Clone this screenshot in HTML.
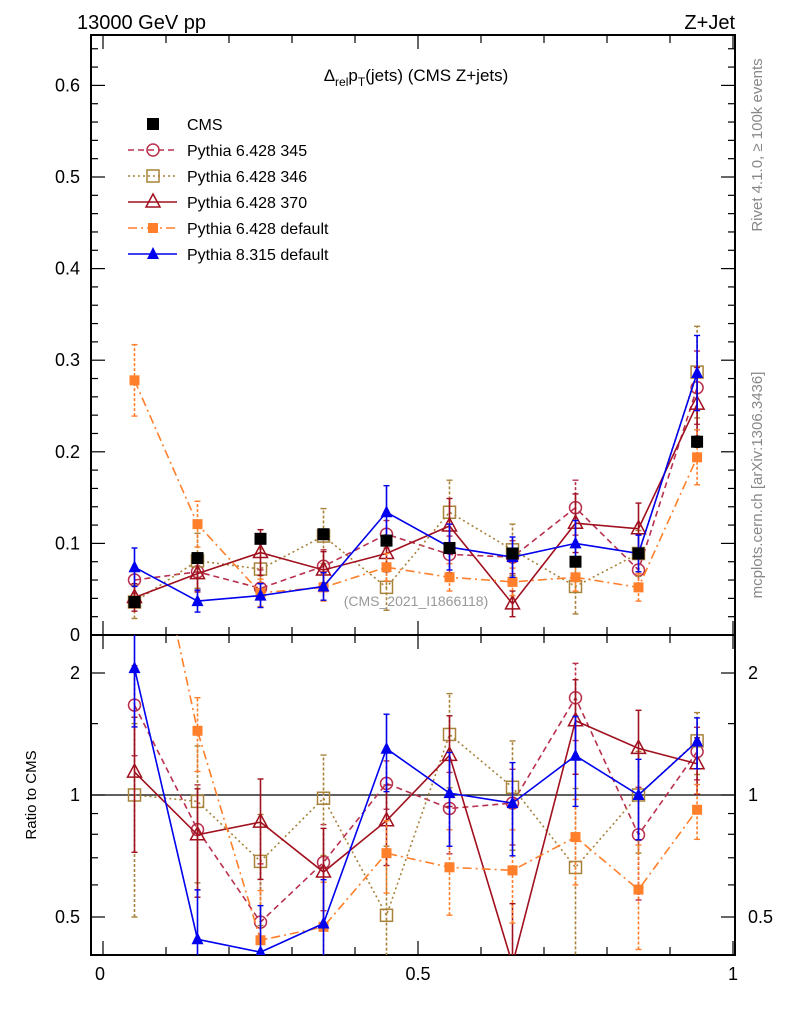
<!DOCTYPE html>
<html><head><meta charset="utf-8">
<style>
body{margin:0;background:#fff;}
svg{display:block;font-family:"Liberation Sans",sans-serif;}
</style></head>
<body>
<svg id="chart" width="786" height="1024" viewBox="0 0 786 1024">
<defs>
<clipPath id="clipMain"><rect x="91" y="35" width="644" height="600"/></clipPath>
<clipPath id="clipRatio"><rect x="91" y="635" width="644" height="320"/></clipPath>
</defs>
<g id="axes"></g>
<g id="series-main" clip-path="url(#clipMain)"></g>
<g id="series-ratio" clip-path="url(#clipRatio)"></g>
<g id="labels">
<text x="77" y="29" font-size="20">13000 GeV pp</text>
<text x="735" y="29" font-size="20" text-anchor="end">Z+Jet</text>
<text x="416" y="81" font-size="17" text-anchor="middle">Δ<tspan font-size="12" dy="5">rel</tspan><tspan dy="-5">p</tspan><tspan font-size="12" dy="5">T</tspan><tspan dy="-5">(jets) (CMS Z+jets)</tspan></text>
<text x="416" y="606" font-size="14" fill="#999" text-anchor="middle">(CMS_2021_I1866118)</text>
<text transform="translate(762,145) rotate(-90)" font-size="15" fill="#888" text-anchor="middle">Rivet 4.1.0, ≥ 100k events</text>
<text transform="translate(762,485) rotate(-90)" font-size="15" fill="#888" text-anchor="middle">mcplots.cern.ch [arXiv:1306.3436]</text>
<text transform="translate(36,795) rotate(-90)" font-size="15" text-anchor="middle">Ratio to CMS</text>
</g>
<g id="legend"></g>
</svg>
<script>
const xCenters=[0.05,0.15,0.25,0.35,0.45,0.55,0.65,0.75,0.85,0.943];
const cmsVals=[0.036,0.084,0.105,0.110,0.103,0.095,0.089,0.080,0.089,0.211];
const cmsErr=[0.003,0.004,0.004,0.004,0.004,0.004,0.004,0.004,0.004,0.006];
const p345Vals=[0.060,0.069,0.051,0.075,0.110,0.088,0.085,0.139,0.071,0.270];
const p345Err=[0.015,0.020,0.020,0.018,0.015,0.020,0.018,0.030,0.022,0.040];
const p346Vals=[0.036,0.081,0.072,0.108,0.052,0.134,0.093,0.053,0.089,0.287];
const p346Err=[0.018,0.030,0.022,0.030,0.025,0.035,0.028,0.030,0.025,0.050];
const p370Vals=[0.041,0.067,0.090,0.071,0.089,0.119,0.034,0.122,0.116,0.252];
const p370Err=[0.015,0.020,0.025,0.020,0.020,0.030,0.014,0.032,0.028,0.040];
const pdefVals=[0.278,0.121,0.046,0.052,0.074,0.063,0.058,0.063,0.052,0.194];
const pdefErr=[0.039,0.025,0.015,0.015,0.015,0.015,0.015,0.015,0.015,0.030];
const p8Vals=[0.074,0.037,0.043,0.053,0.134,0.096,0.085,0.100,0.089,0.286];
const p8Err=[0.021,0.012,0.013,0.015,0.029,0.025,0.022,0.025,0.020,0.041];
const mainTicks=[0,0.1,0.2,0.3,0.4,0.5,0.6];
const mainTickLabels=["0","0.1","0.2","0.3","0.4","0.5","0.6"];
const ratioTicks=[0.5,1,2];
const ratioTickLabels=["0.5","1","2"];
const xTicks=[0,0.5,1];
const xTickLabels=["0","0.5","1"];

const NS="http://www.w3.org/2000/svg";
const X0=91,X1=735,YT=35,YM=635,YB=955;
function xs(v){return 103+630*v;}
function ym(v){return 635-916*v;}
function yr(r){return 795-122*Math.log2(r);}
function mk(tag,attrs,parent){const e=document.createElementNS(NS,tag);for(const k in attrs)e.setAttribute(k,attrs[k]);parent.appendChild(e);return e;}

const axes=document.getElementById('axes');
let f=mk('rect',{x:X0,y:YT,width:X1-X0,height:YM-YT,fill:'none',stroke:'#000','stroke-width':2},axes);


f=mk('rect',{x:X0,y:YM,width:X1-X0,height:YB-YM,fill:'none',stroke:'#000','stroke-width':2},axes);


let ul=mk('line',{x1:X0,x2:X1,y1:yr(1),y2:yr(1),stroke:'#000','stroke-width':1.2},axes);


for(let v=0;v<=0.65;v+=0.02){const y=ym(v);if(y<YT)continue;const maj=Math.abs(v*10-Math.round(v*10))<1e-6;const L=maj?14:7;
 mk('line',{x1:X0,x2:X0+L,y1:y,y2:y,stroke:'#000','stroke-width':1.2},axes);
 mk('line',{x1:X1,x2:X1-L,y1:y,y2:y,stroke:'#000','stroke-width':1.2},axes);}
mainTicks.forEach((v,i)=>{
 const t=mk('text',{x:80,y:ym(v)+6,'font-size':18,'text-anchor':'end'},axes);t.textContent=mainTickLabels[i];
 
 });
[0.5,0.6,0.7,0.8,0.9,1,1.5,2].forEach(r=>{const y=yr(r);const maj=ratioTicks.includes(r);const L=maj?14:7;
 mk('line',{x1:X0,x2:X0+L,y1:y,y2:y,stroke:'#000','stroke-width':1.2},axes);
 mk('line',{x1:X1,x2:X1-L,y1:y,y2:y,stroke:'#000','stroke-width':1.2},axes);});
ratioTicks.forEach((r,i)=>{
 let t=mk('text',{x:80,y:yr(r)+6,'font-size':18,'text-anchor':'end'},axes);t.textContent=ratioTickLabels[i];
 
 
 t=mk('text',{x:748,y:yr(r)+6,'font-size':18},axes);t.textContent=ratioTickLabels[i];
 
 });
for(let k=0;k<=10;k++){const v=k/10;const x=xs(v);const maj=(k%5===0);const L=maj?14:8;
 [[YT,1],[YM,-1],[YM,1],[YB,-1]].forEach(([y,d])=>mk('line',{x1:x,x2:x,y1:y,y2:y+d*L,stroke:'#000','stroke-width':1.2},axes));}
xTicks.forEach((v,i)=>{const t=mk('text',{x:xs(v)-(i===0?3:0),y:980,'font-size':18,'text-anchor':'middle'},axes);t.textContent=xTickLabels[i];
 
 });

const series=[
 {name:'cms',label:'CMS',vals:cmsVals,err:cmsErr,color:'#000',dash:'',marker:'fsq',line:false},
 {name:'pythia6-345',label:'Pythia 6.428 345',vals:p345Vals,err:p345Err,color:'#b8304e',dash:'6,4',marker:'circ'},
 {name:'pythia6-346',label:'Pythia 6.428 346',vals:p346Vals,err:p346Err,color:'#a8823a',dash:'2,3',marker:'osq'},
 {name:'pythia6-370',label:'Pythia 6.428 370',vals:p370Vals,err:p370Err,color:'#a0101e',dash:'',marker:'otri'},
 {name:'pythia6-default',label:'Pythia 6.428 default',vals:pdefVals,err:pdefErr,color:'#ff7f2a',dash:'9,4,2,4',marker:'fsq2'},
 {name:'pythia8-default',label:'Pythia 8.315 default',vals:p8Vals,err:p8Err,color:'#0000ee',dash:'',marker:'ftri'}
];
function marker(g,type,x,y,c){
 if(type==='fsq')return mk('rect',{x:x-6,y:y-6,width:12,height:12,fill:c},g);
 if(type==='fsq2')return mk('rect',{x:x-5,y:y-5,width:10,height:10,fill:c},g);
 if(type==='osq')return mk('rect',{x:x-6,y:y-6,width:12,height:12,fill:'none',stroke:c,'stroke-width':1.5},g);
 if(type==='circ')return mk('circle',{cx:x,cy:y,r:6,fill:'none',stroke:c,'stroke-width':1.5},g);
 if(type==='otri')return mk('polygon',{points:`${x},${y-8} ${x-7},${y+5} ${x+7},${y+5}`,fill:'none',stroke:c,'stroke-width':1.5},g);
 if(type==='ftri')return mk('polygon',{points:`${x},${y-7} ${x-6},${y+5} ${x+6},${y+5}`,fill:c},g);
}
function draw(parent,ys,vals,errs,s,panel){
 const g=mk('g',{},parent);
 
 
 if(s.line!==false){
  const pts=vals.map((v,i)=>xs(xCenters[i])+','+ys(v)).join(' ');
  const pl=mk('polyline',{points:pts,fill:'none',stroke:s.color,'stroke-width':1.6,'stroke-dasharray':s.dash},g);
  
  
 }
 vals.forEach((v,i)=>{const x=xs(xCenters[i]);
  const lo=Math.max(v-errs[i],1e-3),hi=v+errs[i];
  mk('line',{x1:x,x2:x,y1:ys(lo),y2:ys(hi),stroke:s.color,'stroke-width':1.6,'stroke-dasharray':s.dash?'3,2':''},g);
  mk('line',{x1:x-3,x2:x+3,y1:ys(lo),y2:ys(lo),stroke:s.color,'stroke-width':1.4},g);
  mk('line',{x1:x-3,x2:x+3,y1:ys(hi),y2:ys(hi),stroke:s.color,'stroke-width':1.4},g);
  const m=marker(g,s.marker,x,ys(v),s.color);
  
  
 });
}
const gm=document.getElementById('series-main'),gr=document.getElementById('series-ratio');
[1,2,3,4,5,0].forEach(k=>{const s=series[k];
 draw(gm,ym,s.vals,s.err,s,'main');
 if(k>0){const rv=s.vals.map((v,i)=>v/cmsVals[i]);const re=s.err.map((e,i)=>e/cmsVals[i]);draw(gr,yr,rv,re,s,'ratio');}
});
const lg=document.getElementById('legend');
series.forEach((s,i)=>{const y=124+26*i;const g=mk('g',{},lg);
 
 
 if(s.line!==false)mk('line',{x1:128,x2:177,y1:y,y2:y,stroke:s.color,'stroke-width':1.4,'stroke-dasharray':s.dash},g);
 marker(g,s.marker,153,y,s.color);
 const t=mk('text',{x:187,y:y+6,'font-size':16},g);t.textContent=s.label;
});
</script>
</body></html>
